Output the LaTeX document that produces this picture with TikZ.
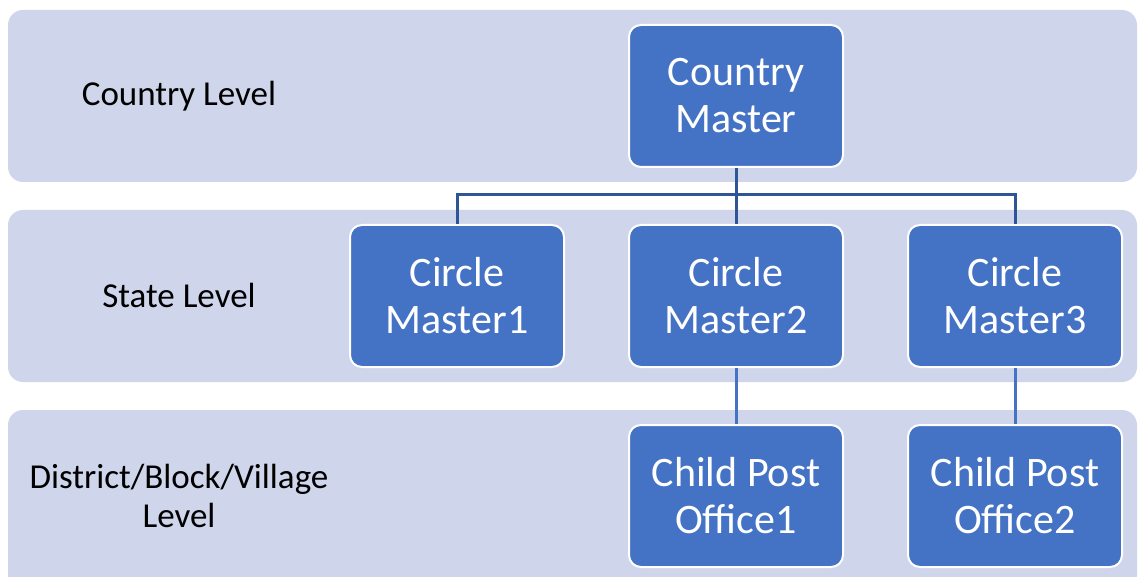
\documentclass[tikz,border=0pt]{standalone}
\usepackage{fontspec}
\setmainfont{Carlito}
\definecolor{band}{HTML}{CFD5EA}
\definecolor{boxfill}{HTML}{4472C4}
\definecolor{linedark}{HTML}{2F5597}
\begin{document}
\begin{tikzpicture}[x=1pt,y=-1pt,
  bandbox/.style={fill=band,draw=none,rounded corners=15pt},
  masterbox/.style={fill=boxfill,draw=white,line width=2pt,rounded corners=12pt,
    minimum width=214pt,minimum height=142pt,text=white,align=center,
    inner sep=0pt,font=\fontsize{42}{47}\selectfont},
  levellabel/.style={text=black,align=center,inner sep=0pt,font=\fontsize{35}{39}\selectfont},
  treeline/.style={draw=linedark,line width=3pt},
  leafline/.style={draw=boxfill,line width=3pt}]
\useasboundingbox (0,0) rectangle (1138,577);
\fill[white] (0,0) rectangle (1138,577);
\begin{scope}
\clip (0,0) rectangle (1138,577);
\path[bandbox] (8,10) rectangle (1137,182);
\path[bandbox] (8,210) rectangle (1137,382);
\path[bandbox] (8,410) rectangle (1137,590);
\end{scope}
\node[levellabel] (l1) at (179,96) {Country Level};
\node[levellabel] (l2) at (179,295) {State Level};
\node[levellabel] (l3) at (179,496) {District/Block/Village\\Level};
\coordinate (j) at (736,195);
\node[masterbox] (cm) at (736,96) {Country\\Master};
\node[masterbox] (c1) at (457,296) {Circle\\Master1};
\node[masterbox] (c2) at (736,296) {Circle\\Master2};
\node[masterbox] (c3) at (1015,296) {Circle\\Master3};
\node[masterbox] (p1) at (736,496) {Child Post\\Office1};
\node[masterbox] (p2) at (1015,496) {Child Post\\Office2};
\draw[treeline] (cm.south) -- (j);
\draw[treeline] (c1.north) |- (j) -| (c3.north);
\draw[treeline] (j) -- (c2.north);
\draw[leafline] (c2.south) -- (p1.north);
\draw[leafline] (c3.south) -- (p2.north);
\end{tikzpicture}
\end{document}
